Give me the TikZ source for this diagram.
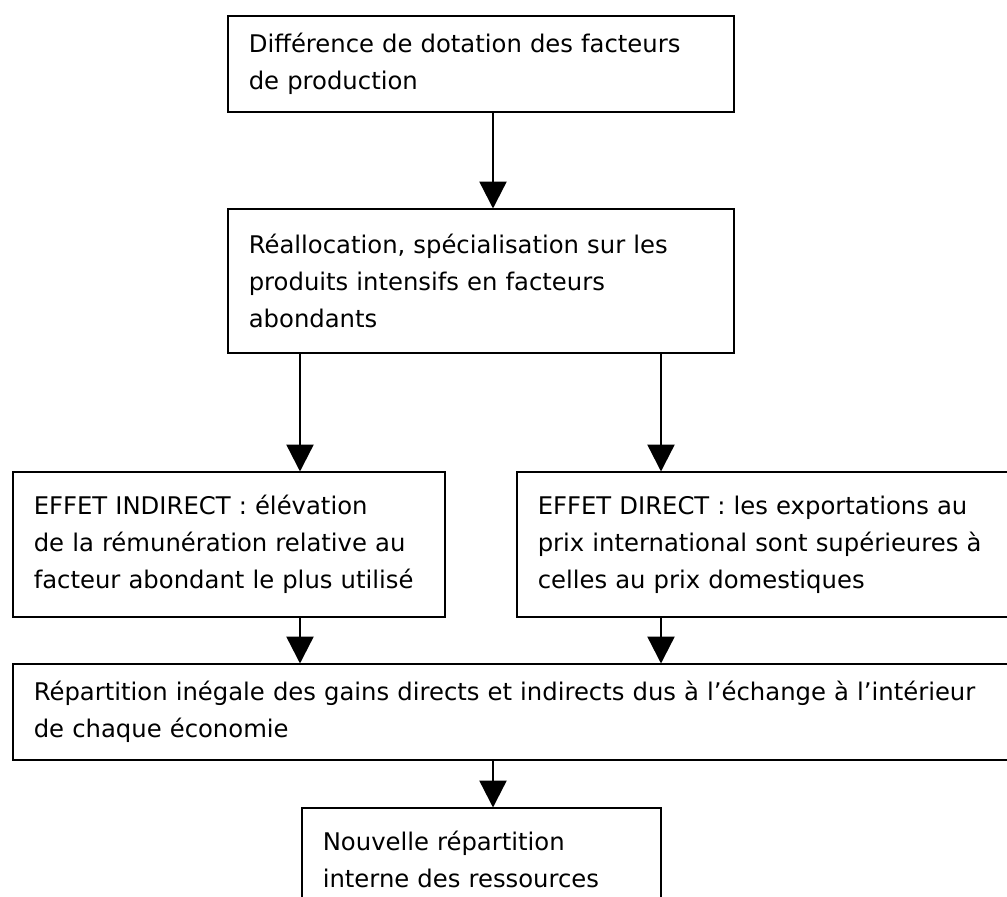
\documentclass[tikz,border=0pt]{standalone}
\usepackage{fontspec}
\setmainfont{DejaVu Sans}
\usetikzlibrary{arrows.meta}
\tikzset{
  flowbox/.style={draw, line width=1.6pt, rectangle, anchor=north west,
    inner xsep=21pt, inner ysep=0pt, align=left,
    font=\fontsize{24.3}{37}\selectfont},
  flowarrow/.style={line width=2.4pt, -{Triangle[width=27pt,length=27pt]}, shorten >=-0.5pt}
}
\begin{document}
\begin{tikzpicture}[x=1pt,y=-1pt]
\useasboundingbox (0,0) rectangle (1007,897);
\clip (0,0) rectangle (1007,897);
\fill[white] (0,0) rectangle (1007,897);

\node[flowbox, minimum width=506pt, minimum height=96pt, text width=464pt] (b1) at (227,15)
  {\mbox{Différence de dotation des facteurs}\\\mbox{de production}};
\node[flowbox, minimum width=506pt, minimum height=144pt, text width=464pt] (b2) at (227,208)
  {\mbox{Réallocation, spécialisation sur les}\\\mbox{produits intensifs en facteurs}\\\mbox{abondants}};
\node[flowbox, minimum width=432pt, minimum height=145pt, text width=390pt] (b3) at (12,471)
  {\mbox{EFFET INDIRECT : élévation}\\\mbox{de la rémunération relative au}\\\mbox{facteur abondant le plus utilisé}};
\node[flowbox, minimum width=500pt, minimum height=145pt, text width=458pt] (b4) at (516,471)
  {\mbox{EFFET DIRECT : les exportations au}\\\mbox{prix international sont supérieures à}\\\mbox{celles au prix domestiques}};
\node[flowbox, minimum width=1004pt, minimum height=96pt, text width=962pt] (b5) at (12,663)
  {\mbox{Répartition inégale des gains directs et indirects dus à l’échange à l’intérieur}\\\mbox{de chaque économie}};
\node[flowbox, minimum width=359pt, minimum height=103pt, text width=317pt] (b6) at (301,807)
  {\mbox{Nouvelle répartition}\\\mbox{interne des ressources}};

\coordinate (xmid) at (493,0);
\coordinate (xleft) at (300,0);
\coordinate (xright) at (661,0);

\draw[flowarrow] (b1.south -| xmid) -- (b2.north -| xmid);
\draw[flowarrow] (b2.south -| xleft) -- (b3.north -| xleft);
\draw[flowarrow] (b2.south -| xright) -- (b4.north -| xright);
\draw[flowarrow] (b3.south -| xleft) -- (b5.north -| xleft);
\draw[flowarrow] (b4.south -| xright) -- (b5.north -| xright);
\draw[flowarrow] (b5.south -| xmid) -- (b6.north -| xmid);
\end{tikzpicture}
\end{document}
